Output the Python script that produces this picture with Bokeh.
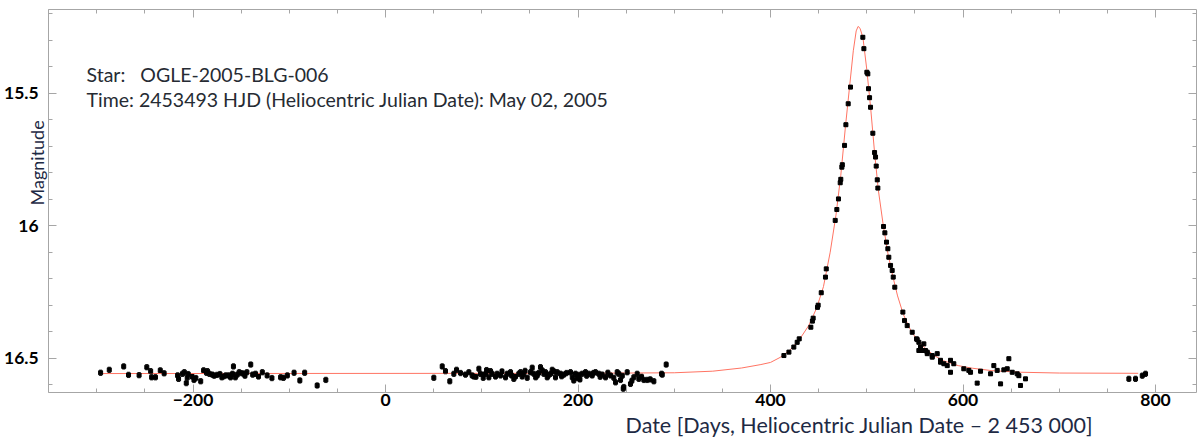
import math
from bokeh.plotting import figure
from bokeh.models import (Range1d, ColumnDataSource, Whisker, TeeHead, Label,
                          LinearAxis, SingleIntervalTicker, CustomJSTickFormatter)
from bokeh.embed import file_html
from bokeh.resources import INLINE

# ---------------- data ----------------
pre_days = [-296, -287, -272, -267, -256, -248, -244, -243, -239, -234, -230, -216, -215,
            -211, -209, -207, -206, -205, -201, -199, -197, -192, -189, -186, -185, -183,
            -180, -178, -175, -172, -170, -168, -166, -163, -161, -159, -158, -156, -154,
            -152, -149, -147, -146, -144, -140, -138, -135, -132, -128, -123, -118, -109,
            -106, -102, -95, -89, -84, -71, -62]
pre_mags = [16.555, 16.544, 16.531, 16.563, 16.564, 16.534, 16.549, 16.572, 16.572, 16.546,
            16.557, 16.565, 16.578, 16.559, 16.553, 16.594, 16.574, 16.560, 16.569, 16.582,
            16.575, 16.587, 16.546, 16.555, 16.549, 16.559, 16.562, 16.566, 16.563, 16.560,
            16.572, 16.568, 16.565, 16.565, 16.572, 16.559, 16.531, 16.572, 16.562, 16.553,
            16.557, 16.559, 16.566, 16.553, 16.524, 16.562, 16.559, 16.569, 16.553, 16.565,
            16.575, 16.572, 16.574, 16.565, 16.555, 16.584, 16.555, 16.603, 16.582]

mid_days = [50.2, 58.9, 62.3, 66.8, 71, 73.8, 78, 83.1, 86.6, 90, 91.8, 94, 97, 98.7, 101.5,
            103.9, 105, 107.4, 109.1, 110.8, 114.3, 116, 119.5, 121, 124.7, 126.4, 129.9,
            131, 133.3, 135.1, 138.5, 140.3, 142, 143.7, 145, 147.2, 150.6, 152.4, 154.1,
            156, 157.6, 159, 161, 162.8, 164.5, 166.2, 168, 169, 171.4, 173.2, 175, 176.6,
            178.4, 181.8, 183, 185.3, 188, 192.2, 194, 195.6, 197.4, 199, 200.9, 202, 204.3,
            207.8, 209, 211.3, 214.7, 216, 218.2, 221.6, 223, 225.1, 228.6, 231, 233.8,
            237.2, 239, 240.7, 242.4, 244.2, 246, 247, 247.6, 251.1, 254.5, 256, 258, 261.5,
            263.2, 266, 268.4, 271.9, 275, 278.8, 286.8, 287.5, 291.6]
mid_mags = [16.574, 16.531, 16.549, 16.587, 16.559, 16.544, 16.556, 16.562, 16.553, 16.565,
            16.569, 16.570, 16.540, 16.559, 16.574, 16.559, 16.545, 16.572, 16.549, 16.559,
            16.569, 16.559, 16.565, 16.550, 16.572, 16.559, 16.553, 16.565, 16.578, 16.569,
            16.559, 16.553, 16.569, 16.559, 16.548, 16.574, 16.553, 16.536, 16.559, 16.572,
            16.565, 16.556, 16.534, 16.546, 16.559, 16.553, 16.572, 16.566, 16.559, 16.544,
            16.550, 16.572, 16.553, 16.559, 16.568, 16.562, 16.556, 16.553, 16.572, 16.584,
            16.559, 16.575, 16.563, 16.580, 16.559, 16.553, 16.566, 16.559, 16.565, 16.556,
            16.553, 16.559, 16.570, 16.562, 16.572, 16.555, 16.565, 16.574, 16.591, 16.553,
            16.559, 16.582, 16.566, 16.615, 16.609, 16.553, 16.597, 16.585, 16.572, 16.559,
            16.578, 16.570, 16.582, 16.582, 16.580, 16.587, 16.559, 16.562, 16.524]

event_days = [413.9, 419.1, 424.2, 427.7, 429.8, 441.9, 443.5, 444.3, 448.8, 449.5, 452.7,
              457.1, 457.9, 467.2, 468.9, 470.6, 472.4, 473.0, 474.1, 474.6, 476.9, 478.3,
              480.7, 483.1, 495.9, 497.0, 500.1, 501.1, 501.8, 502.9, 503.9, 506.3, 508.1,
              509.1, 509.8, 510.9, 511.5, 517.4, 518.8, 520.5, 521.9, 522.9, 524.7, 526.4,
              527.5, 529.1, 537.5, 539.2, 542.0, 547.2, 551.7, 552.4, 554.1, 554.1, 555.8,
              557.5, 559.3, 561.0, 562.8, 562.8, 568.0, 568.0, 573.2, 576.6, 576.6, 580.1,
              583.6, 587.0, 587.0, 590.4, 600.8, 606.0, 607.8, 614.7, 618.2, 628.6, 632.0,
              635.5, 639.0, 642.4, 645.9, 647.6, 651.1, 656.3, 658.0, 659.7, 664.9]
event_mags = [16.490, 16.477, 16.458, 16.440, 16.427, 16.383, 16.360, 16.349, 16.308, 16.300,
              16.253, 16.194, 16.163, 15.980, 15.939, 15.899, 15.838, 15.825, 15.779, 15.770,
              15.697, 15.619, 15.540, 15.477, 15.289, 15.332, 15.421, 15.427, 15.483, 15.517,
              15.553, 15.651, 15.724, 15.741, 15.775, 15.827, 15.858, 16.003, 16.027, 16.062,
              16.087, 16.119, 16.150, 16.169, 16.194, 16.232, 16.326, 16.358, 16.377, 16.402,
              16.427, 16.430, 16.440, 16.471, 16.458, 16.471, 16.446, 16.471, 16.483, 16.477,
              16.490, 16.496, 16.483, 16.508, 16.515, 16.521, 16.528, 16.508, 16.553, 16.521,
              16.540, 16.546, 16.553, 16.594, 16.549, 16.559, 16.528, 16.546, 16.597, 16.544,
              16.540, 16.502, 16.553, 16.559, 16.566, 16.603, 16.578]

late_days = [772.3, 779.2, 786.2, 789.6]
late_mags = [16.578, 16.578, 16.566, 16.559]

# model light curve (red)
model_days = [-296, 200, 300, 340, 370, 390, 400, 410, 420, 430, 440, 448, 455, 462, 468,
              473, 478, 482, 486, 489, 491, 493, 496, 500, 504, 508, 512, 517, 522, 527, 532,
              538, 545, 552, 560, 570, 580, 595, 610, 630, 660, 700, 782]
model_mags = [16.558, 16.557, 16.555, 16.549, 16.537, 16.524, 16.516, 16.497, 16.470, 16.430,
              16.375, 16.310, 16.230, 16.100, 15.960, 15.810, 15.620, 15.480, 15.340, 15.265,
              15.248, 15.255, 15.290, 15.410, 15.555, 15.720, 15.865, 15.995, 16.105, 16.190,
              16.265, 16.335, 16.390, 16.430, 16.460, 16.490, 16.510, 16.528, 16.538, 16.547,
              16.553, 16.556, 16.557]

err_baseline = 0.010
err_event = 0.006

x_tick_labels = {-200: "\u2212200", 0: "0", 200: "200", 400: "400", 600: "600", 800: "800"}
y_tick_labels = {15.5: "15.5", 16: "16", 16.5: "16.5"}

star_text = "Star:\u00a0\u00a0\u00a0OGLE-2005-BLG-006"
time_text = "Time: 2453493 HJD (Heliocentric Julian Date): May 02, 2005"
x_title = "Date [Days, Heliocentric Julian Date \u2013 2 453 000]"
y_title = "Magnitude"

# plot box (data units of the drawn axes box)
X_LO, X_HI = -350, 843
Y_TOP, Y_BOT = 15.184, 16.629

# ---------------- figure ----------------
AX = "#a6a6a6"
TXT = "#1e2a44"

p = figure(width=1197, height=440, x_range=Range1d(-400, 843.6),
           y_range=Range1d(16.8106, 15.1502), output_backend="svg",
           toolbar_location=None, min_border=0, min_border_left=0, min_border_right=0,
           min_border_top=0, min_border_bottom=0)
p.xgrid.visible = False
p.ygrid.visible = False
p.outline_line_color = None
p.background_fill_color = "white"
p.border_fill_color = "white"

def style_axis(ax):
    ax.axis_line_color = AX
    ax.major_tick_line_color = AX
    ax.minor_tick_line_color = AX
    ax.major_tick_in = 8
    ax.major_tick_out = 0
    ax.minor_tick_in = 4
    ax.minor_tick_out = 0
    ax.major_label_text_font = "Lato"
    ax.major_label_text_font_style = "bold"
    ax.major_label_text_font_size = "17.5px"
    ax.major_label_text_color = "black"

p.xaxis.ticker = SingleIntervalTicker(interval=200, num_minor_ticks=4)
p.yaxis.ticker = SingleIntervalTicker(interval=0.5, num_minor_ticks=5)
style_axis(p.xaxis[0])
style_axis(p.yaxis[0])
p.xaxis.major_label_overrides = x_tick_labels
p.yaxis.major_label_overrides = y_tick_labels
p.xaxis.major_label_standoff = 2
p.yaxis.major_label_standoff = 10
p.xaxis.fixed_location = Y_BOT
p.xaxis.bounds = (X_LO, X_HI)
p.yaxis.fixed_location = X_LO
p.yaxis.bounds = (Y_TOP, Y_BOT)

blank = CustomJSTickFormatter(code="return ''")
top = LinearAxis(ticker=SingleIntervalTicker(interval=200, num_minor_ticks=4),
                 formatter=blank, fixed_location=Y_TOP, bounds=(X_LO, X_HI))
right = LinearAxis(ticker=SingleIntervalTicker(interval=0.5, num_minor_ticks=5),
                   formatter=blank, fixed_location=X_HI, bounds=(Y_TOP, Y_BOT))
for ax in (top, right):
    style_axis(ax)
    ax.major_label_standoff = 0
    ax.major_label_text_font_size = "1px"
p.add_layout(top, "above")
p.add_layout(right, "right")

# model curve
p.line(model_days, model_mags, line_color="#ff7463", line_width=1)

# observations
def add_obs(days, mags, err):
    src = ColumnDataSource(dict(t=days, m=mags,
                                lo=[v - err for v in mags], hi=[v + err for v in mags]))
    p.add_layout(Whisker(source=src, base="t", lower="lo", upper="hi",
                         line_color="#222222", line_width=1,
                         lower_head=TeeHead(size=3, line_color="#222222", line_width=1),
                         upper_head=TeeHead(size=3, line_color="#222222", line_width=1)))
    p.scatter("t", "m", source=src, marker="square", size=4, fill_color="black",
              line_color="black")

add_obs(pre_days, pre_mags, err_baseline)
add_obs(mid_days, mid_mags, err_baseline)
add_obs(event_days, event_mags, err_event)
add_obs(late_days, late_mags, err_baseline)

# texts
p.add_layout(Label(x=-310.6, y=15.429, text=star_text, text_font="Lato",
                   text_font_size="19.5px", text_color="#262b33", text_baseline="alphabetic"))
p.add_layout(Label(x=-310.6, y=15.524, text=time_text, text_font="Lato",
                   text_font_size="19.5px", text_color="#262b33", text_baseline="alphabetic"))
p.add_layout(Label(x=249.4, y=16.753, text=x_title, text_font="Lato",
                   text_font_size="21.5px", text_color=TXT, text_baseline="alphabetic"))
p.add_layout(Label(x=-361.6, y=15.763, text=y_title, text_font="Lato", angle=math.pi / 2,
                   text_font_size="18px", text_color=TXT, text_align="center",
                   text_baseline="middle"))

open("out.html", "w").write(file_html(p, INLINE))
